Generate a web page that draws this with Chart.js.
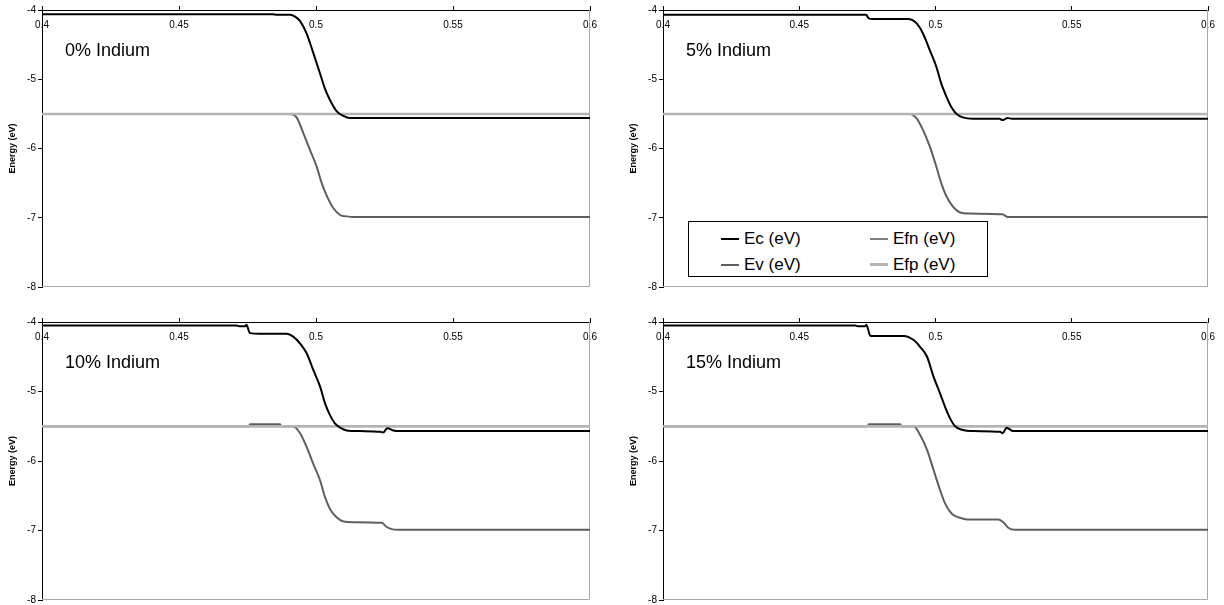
<!DOCTYPE html>
<html>
<head>
<meta charset="utf-8">
<script src="https://cdn.jsdelivr.net/npm/chart.js@4.4.0/dist/chart.umd.min.js"></script>
<style>
  body { margin: 0; background: #fff; width: 1224px; height: 605px; position: relative; overflow: hidden;
         font-family: "Liberation Sans", Arial, sans-serif; }
  .panel { position: absolute; }
  .etiqueta { position: absolute; font-size: 18px; line-height: 20px; color: #000; white-space: nowrap; }
  #leyenda { position: absolute; left: 688px; top: 221px; width: 298px; height: 54px;
             border: 1px solid #000; background: #fff; }
  .item { position: absolute; height: 20px; font-size: 17px; line-height: 20px; white-space: nowrap; }
  .muestra { display: inline-block; width: 18px; vertical-align: middle; margin-right: 5px; margin-top: -2px; }
</style>
</head>
<body>
<script>
// ejes
const xTicks = [0.4, 0.45, 0.5, 0.55, 0.6];
const yTicks = [-4, -5, -6, -7, -8];
const seriesNames = ["Ec (eV)", "Efn (eV)", "Ev (eV)", "Efp (eV)"];
const panelTitles = ["0% Indium", "5% Indium", "10% Indium", "15% Indium"];

// Ec / Ev por panel, [x, energia]
const ec0 = [[0.4,-4.06],[0.484,-4.06],[0.486,-4.07],[0.4905,-4.07],[0.4925,-4.1],[0.4942,-4.16],[0.4966,-4.34],[0.499,-4.62],[0.5015,-4.92],[0.5033,-5.14],[0.5051,-5.3],[0.5075,-5.46],[0.51,-5.53],[0.5124,-5.56],[0.6,-5.56]];
const ev0 = [[0.4,-5.5],[0.4905,-5.5],[0.4929,-5.55],[0.4954,-5.78],[0.4978,-6.02],[0.5003,-6.27],[0.5021,-6.5],[0.5039,-6.68],[0.5063,-6.86],[0.5088,-6.96],[0.5112,-6.98],[0.5136,-6.99],[0.6,-6.99]];

const ec5 = [[0.4,-4.07],[0.4745,-4.07],[0.4755,-4.12],[0.477,-4.13],[0.4898,-4.13],[0.493,-4.19],[0.4954,-4.34],[0.4979,-4.58],[0.5003,-4.82],[0.5021,-5.06],[0.504,-5.25],[0.5058,-5.4],[0.5077,-5.5],[0.51,-5.55],[0.5137,-5.57],[0.5235,-5.57],[0.5245,-5.59],[0.5265,-5.56],[0.528,-5.57],[0.6,-5.57]];
const ev5 = [[0.4,-5.5],[0.4905,-5.5],[0.493,-5.56],[0.4954,-5.73],[0.4979,-5.97],[0.5003,-6.26],[0.5021,-6.5],[0.504,-6.69],[0.5064,-6.84],[0.5088,-6.92],[0.5125,-6.94],[0.5245,-6.95],[0.5266,-6.99],[0.6,-6.99]];

const ec10 = [[0.4,-4.05],[0.471,-4.05],[0.472,-4.06],[0.4742,-4.06],[0.4746,-4.04],[0.4759,-4.16],[0.4796,-4.17],[0.4893,-4.17],[0.4917,-4.21],[0.4942,-4.31],[0.4966,-4.45],[0.499,-4.69],[0.5015,-4.93],[0.5033,-5.17],[0.5051,-5.34],[0.5069,-5.46],[0.5088,-5.52],[0.5112,-5.56],[0.5161,-5.57],[0.5235,-5.58],[0.5245,-5.59],[0.526,-5.53],[0.5282,-5.56],[0.53,-5.57],[0.6,-5.57]];
const ev10 = [[0.4,-5.5],[0.4755,-5.5],[0.4759,-5.47],[0.4869,-5.47],[0.4873,-5.5],[0.4915,-5.5],[0.4942,-5.6],[0.4966,-5.8],[0.499,-6.04],[0.5015,-6.28],[0.5033,-6.52],[0.5051,-6.69],[0.5075,-6.81],[0.51,-6.87],[0.5136,-6.88],[0.524,-6.89],[0.5258,-6.95],[0.5276,-6.98],[0.53,-6.99],[0.6,-6.99]];

const ec15 = [[0.4,-4.05],[0.4706,-4.05],[0.4715,-4.06],[0.4742,-4.06],[0.4746,-4.04],[0.4761,-4.2],[0.4773,-4.2],[0.4883,-4.2],[0.492,-4.26],[0.4944,-4.36],[0.4969,-4.5],[0.4993,-4.79],[0.5017,-5.03],[0.5035,-5.22],[0.5054,-5.39],[0.5072,-5.5],[0.5097,-5.55],[0.5139,-5.57],[0.5237,-5.58],[0.5247,-5.6],[0.5261,-5.52],[0.5285,-5.57],[0.6,-5.57]];
const ev15 = [[0.4,-5.5],[0.4752,-5.5],[0.4755,-5.47],[0.4871,-5.47],[0.4875,-5.5],[0.492,-5.5],[0.4944,-5.63],[0.4969,-5.84],[0.4993,-6.13],[0.5017,-6.42],[0.5035,-6.61],[0.506,-6.76],[0.5084,-6.81],[0.5115,-6.84],[0.5231,-6.84],[0.5249,-6.88],[0.5267,-6.96],[0.5292,-6.99],[0.6,-6.99]];

const efn = [[0.4,-5.5],[0.6,-5.5]];
const efp = [[0.4,-5.5],[0.6,-5.5]];

const ecSeries = [ec0, ec5, ec10, ec15];
const evSeries = [ev0, ev5, ev10, ev15];

Chart.defaults.font.family = "'Liberation Sans', Arial, sans-serif";
Chart.defaults.color = "#000";

// borde gris derecho e inferior del area de trazado
const bordeGris = {
  id: "bordeGris",
  beforeDatasetsDraw(chart) {
    const a = chart.chartArea;
    const ctx = chart.ctx;
    ctx.save();
    ctx.strokeStyle = "#a8a8a8";
    ctx.lineWidth = 1;
    ctx.beginPath();
    ctx.moveTo(a.right - 0.5, a.top);
    ctx.lineTo(a.right - 0.5, a.bottom - 0.5);
    ctx.lineTo(a.left, a.bottom - 0.5);
    ctx.stroke();
    ctx.restore();
  }
};

const paneles = [
  { left: 0,   top: 0,   height: 300, plotW: 548, plotH: 277 },
  { left: 621, top: 0,   height: 300, plotW: 545, plotH: 277 },
  { left: 0,   top: 312, height: 293, plotW: 548, plotH: 278 },
  { left: 621, top: 312, height: 293, plotW: 545, plotH: 278 }
];

function crearGrafica(i) {
  const p = paneles[i];
  const div = document.createElement("div");
  div.className = "panel";
  div.style.left = p.left + "px";
  div.style.top = p.top + "px";
  const canvas = document.createElement("canvas");
  canvas.width = 600;
  canvas.height = p.height;
  div.appendChild(canvas);
  document.body.appendChild(div);

  const datos = [ecSeries[i], efn, evSeries[i], efp];
  const colores = ["#000000", "#7f7f7f", "#5f5f5f", "#b4b4b4"];
  const orden = [0, 2, 3, 1];

  const chart = new Chart(canvas, {
    type: "line",
    data: {
      datasets: datos.map((d, k) => ({
        label: seriesNames[k],
        data: d,
        borderColor: colores[k],
        borderWidth: k === 3 ? 2.5 : 2,
        pointRadius: 0,
        cubicInterpolationMode: "monotone",
        order: orden[k],
      })),
    },
    options: {
      responsive: false,
      animation: false,
      layout: { padding: { top: 0, left: 0, right: 600 - 42 - p.plotW, bottom: p.height - 10 - p.plotH } },
      plugins: { legend: { display: false }, tooltip: { enabled: false } },
      scales: {
        x: {
          type: "linear",
          position: "top",
          min: 0.4,
          max: 0.6,
          afterBuildTicks: (scale) => { scale.ticks = xTicks.map((v) => ({ value: v })); },
          afterFit: (scale) => { scale.height = 10; scale.paddingLeft = 0; scale.paddingRight = 0; },
          // etiquetas dentro del area (mirror evita el recorte)
          ticks: { maxRotation: 0, autoSkip: false, mirror: true, padding: 9, font: { size: 10 },
                   callback: (v) => String(+v.toFixed(2)) },
          grid: { drawOnChartArea: false, tickLength: 4, color: "#000" },
          border: { color: "#000", width: 1 },
        },
        y: {
          type: "linear",
          min: -8,
          max: -4,
          afterBuildTicks: (scale) => { scale.ticks = yTicks.map((v) => ({ value: v })); },
          afterFit: (scale) => { scale.width = 42; scale.paddingTop = 0; scale.paddingBottom = 0; },
          ticks: { padding: 2, font: { size: 10 }, callback: (v) => String(v) },
          grid: { drawOnChartArea: false, tickLength: 4, color: "#000" },
          border: { color: "#000", width: 1 },
          title: { display: true, text: "Energy (eV)", font: { size: 9, weight: "bold" },
                   padding: { top: 7, bottom: 0 } },
        },
      },
    },
    plugins: [bordeGris],
  });

  const etiqueta = document.createElement("div");
  etiqueta.className = "etiqueta";
  etiqueta.textContent = panelTitles[i];
  etiqueta.style.left = p.left + 42 + 23 + "px";
  etiqueta.style.top = p.top + 10 + 40 - 10 + "px";
  document.body.appendChild(etiqueta);
  return chart;
}

function leyendaHtml(chart) {
  const caja = document.createElement("div");
  caja.id = "leyenda";
  const cols = [32, 181];
  const filas = [17, 43];
  chart.data.datasets.forEach((ds, k) => {
    const item = document.createElement("div");
    item.className = "item";
    item.style.left = cols[k % 2] + "px";
    item.style.top = filas[Math.floor(k / 2)] - 10 + "px";
    const muestra = document.createElement("span");
    muestra.className = "muestra";
    muestra.style.height = ds.borderWidth + "px";
    muestra.style.background = ds.borderColor;
    item.appendChild(muestra);
    item.appendChild(document.createTextNode(ds.label));
    caja.appendChild(item);
  });
  document.body.appendChild(caja);
}

const graficas = paneles.map((p, i) => crearGrafica(i));
leyendaHtml(graficas[1]);
</script>
</body>
</html>
